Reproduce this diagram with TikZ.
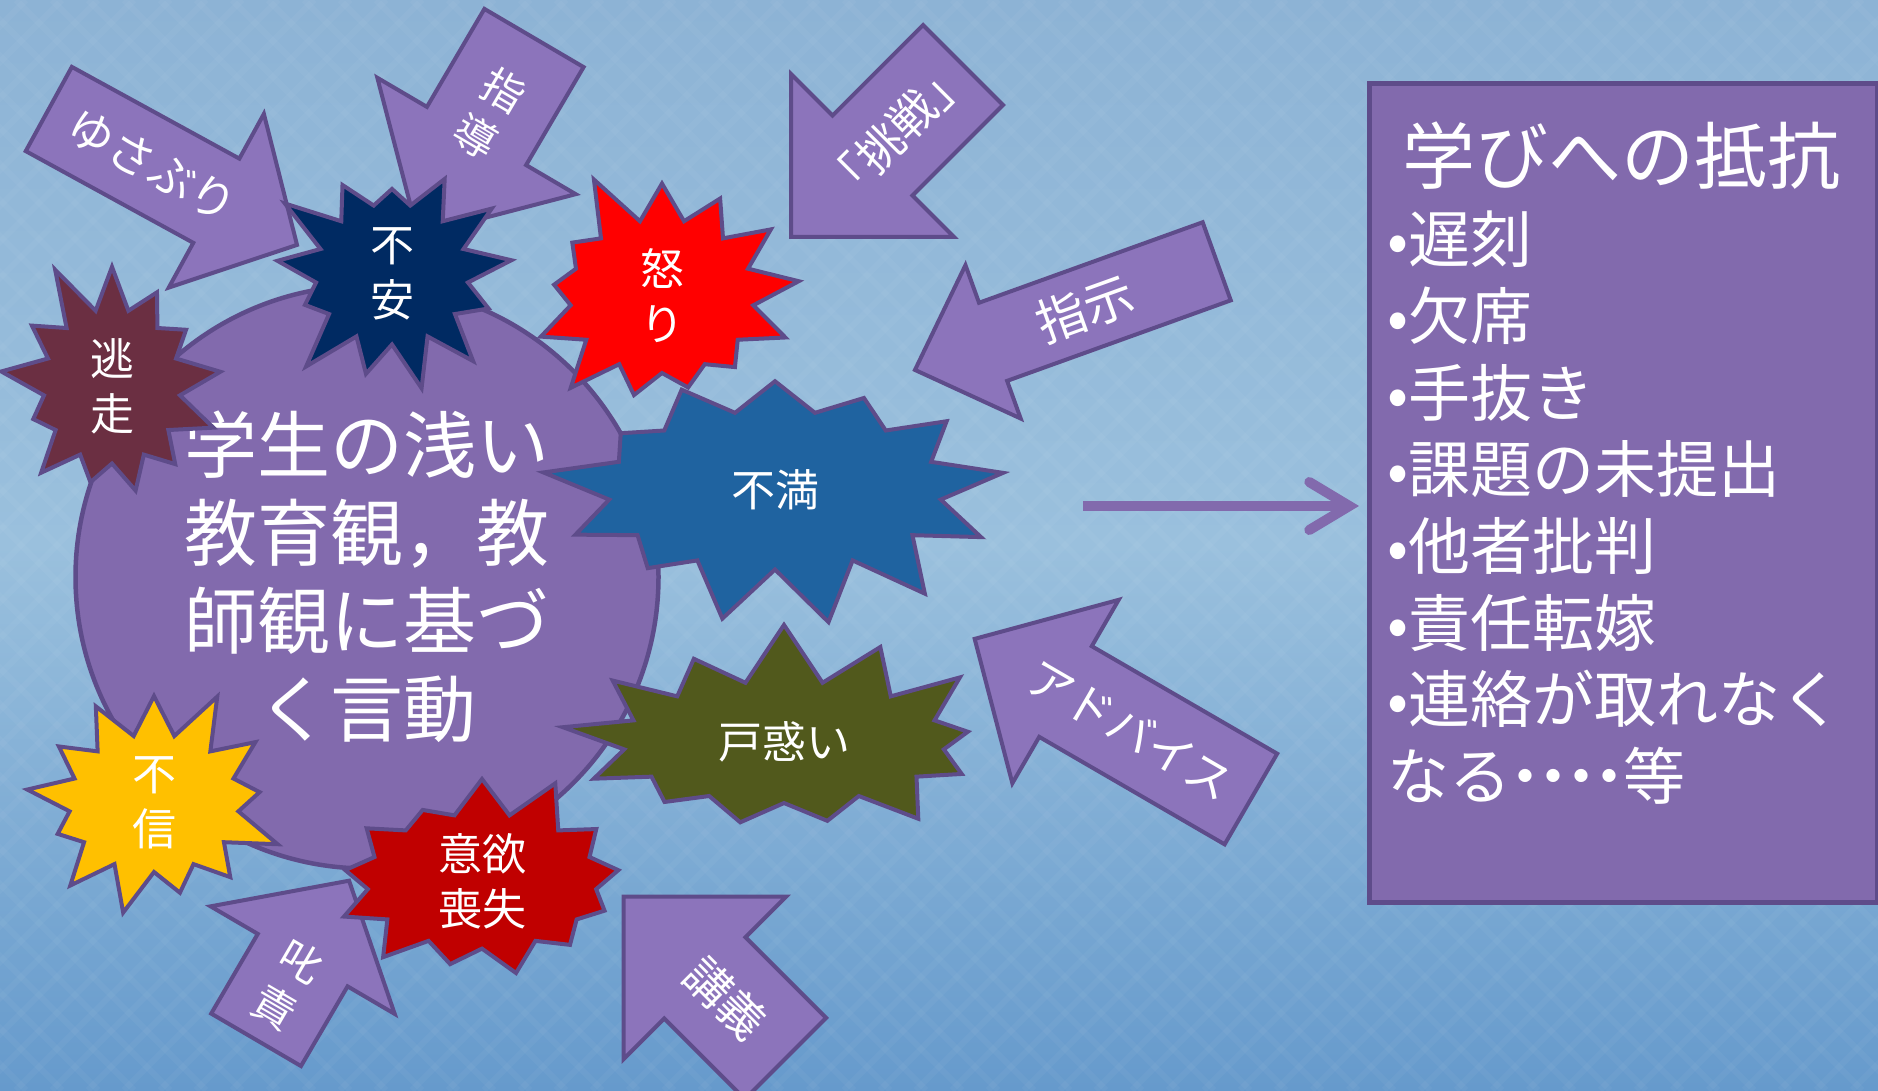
\documentclass[tikz,border=0pt]{standalone}
\usepackage{fontspec}
\setmainfont{Noto Sans CJK JP}
\usetikzlibrary{shapes.symbols,arrows.meta}

\definecolor{skytop}{RGB}{141,179,213}
\definecolor{skymid}{RGB}{154,192,221}
\definecolor{skybot}{RGB}{102,154,204}
\definecolor{violet}{RGB}{130,106,173}
\definecolor{arrowviolet}{RGB}{140,116,187}
\definecolor{rim}{RGB}{94,76,138}
\definecolor{maroon}{RGB}{107,47,66}
\definecolor{navy}{RGB}{0,42,98}
\definecolor{angry}{RGB}{255,0,0}
\definecolor{steel}{RGB}{31,99,160}
\definecolor{olive}{RGB}{81,89,28}
\definecolor{crimson}{RGB}{192,0,0}
\definecolor{gold}{RGB}{255,192,0}

\begin{document}
\begin{tikzpicture}[x=1pt,y=-1pt,
  blockarrow/.style={fill=arrowviolet, draw=rim, line width=4pt, line join=miter},
  arrowtext/.style={text=white, inner sep=0pt, align=center, font=\fontsize{46}{52}\selectfont},
  burst/.style={starburst, starburst points=13, draw=rim, line width=4pt, inner sep=0pt,
    text=white, align=center, font=\fontsize{44}{55}\selectfont},
  listtext/.style={text=white, inner sep=0pt, anchor=west, font=\fontsize{62}{70}\selectfont},
  ]

% background
\fill[top color=skytop, bottom color=skybot, middle color=skymid] (0,0) rectangle (1878,1090);
\useasboundingbox (0,0) rectangle (1878,1090);
\clip (0,0) rectangle (1878,1090);

% faint weave
\begin{scope}[white, opacity=0.035, line width=6pt]
\foreach \k in {-1100,-1064,...,1900}{
  \draw (\k,0) -- ++(1090,1090);
  \draw (\k+1090,0) -- ++(-1090,1090);
}
\end{scope}

% block arrows
% yusaburi
\begin{scope}[shift={(48.8,109)}, rotate=-28.7]
\draw[blockarrow] (0,-48) -- (191,-48) -- (191,-99) -- (283,0) -- (191,99) -- (191,48) -- (0,48) -- cycle;
\node[arrowtext, rotate=-28.7] (yusaburi) at (118,0) {ゆさぶり};
\end{scope}

% shidou
\begin{scope}[shift={(534,38)}, rotate=239.6]
\draw[blockarrow] (0,-57.5) -- (113.6,-57.5) -- (113.6,-115) -- (228.6,0) -- (113.6,115) -- (113.6,57.5) -- (0,57.5) -- cycle;
\node[arrowtext, rotate=-30.4, font=\fontsize{42}{54}\selectfont] (shidou) at (87.6,0) {指\\導};
\end{scope}

% chousen
\begin{scope}[shift={(963,65)}, rotate=225]
\draw[blockarrow] (0,-56.5) -- (128,-56.5) -- (128,-115) -- (243,0) -- (128,115) -- (128,56.5) -- (0,56.5) -- cycle;
\node[arrowtext, rotate=45] (chousen) at (94,0) {「挑戦」};
\end{scope}

% shiji
\begin{scope}[shift={(1216.7,261.3)}, rotate=199.8]
\draw[blockarrow] (0,-41.5) -- (237.7,-41.5) -- (237.7,-81.5) -- (320.7,0) -- (237.7,81.5) -- (237.7,41.5) -- (0,41.5) -- cycle;
\node[arrowtext, rotate=19.8, font=\fontsize{50}{56}\selectfont] (shiji) at (140,0) {指示};
\end{scope}

% advice
\begin{scope}[shift={(1250.9,799)}, rotate=149.9]
\draw[blockarrow] (0,-52.4) -- (214.3,-52.4) -- (214.3,-106) -- (319.3,0) -- (214.3,106) -- (214.3,52.4) -- (0,52.4) -- cycle;
\node[arrowtext, rotate=-30.1] (advice) at (139,0) {アドバイス};
\end{scope}

% kougi
\begin{scope}[shift={(785.5,1058.5)}, rotate=135]
\draw[blockarrow] (0,-57.5) -- (114,-57.5) -- (114,-115) -- (229,0) -- (114,115) -- (114,57.5) -- (0,57.5) -- cycle;
\node[arrowtext, rotate=-45] (kougi) at (85,0) {講義};
\end{scope}

% shisseki
\begin{scope}[shift={(256.1,1039.8)}, rotate=59.7]
\draw[blockarrow] (0,-52) -- (92.3,-52) -- (92.3,-106.6) -- (184.3,0) -- (92.3,106.6) -- (92.3,52) -- (0,52) -- cycle;
\node[arrowtext, rotate=-30.3, font=\fontsize{42}{53}\selectfont] (shisseki) at (63.7,0) {叱\\責};
\end{scope}

% student view
\node[circle, fill=violet, draw=rim, line width=4.5pt, minimum size=583pt, inner sep=0pt,
  text=white, align=center, font=\fontsize{73}{88}\selectfont] (belief) at (367,577)
  {学生の浅い\\教育観，教\\師観に基づ\\く言動};

% bursts
\node[burst, fill=maroon, minimum width=249pt, minimum height=267pt, starburst point height=56pt, random starburst=11] (tousou) at (112,386) {逃\\走};
\node[burst, fill=navy, minimum width=265pt, minimum height=253pt, starburst point height=56pt, random starburst=23] (fuan) at (392,274) {不\\安};
\node[burst, fill=angry, minimum width=300pt, minimum height=270pt, starburst point height=58pt, random starburst=5] (ikari) at (662,296) {怒\\り};
\node[burst, fill=steel, minimum width=470pt, minimum height=295pt, starburst point height=68pt, random starburst=42] (fuman) at (775,490) {不満};
\node[burst, fill=olive, minimum width=450pt, minimum height=250pt, starburst point height=64pt, random starburst=17] (tomadoi) at (784,742) {戸惑い};
\node[burst, fill=crimson, minimum width=330pt, minimum height=205pt, starburst point height=50pt, random starburst=31] (iyoku) at (482,881) {意欲\\喪失};
\node[burst, fill=gold, minimum width=282pt, minimum height=250pt, starburst point height=56pt, random starburst=8] (fushin) at (154,803) {不\\信};

% resistance box
\node[fill=violet, draw=rim, line width=5pt, minimum width=508pt, minimum height=819pt,
  anchor=north west, inner sep=0pt] (resist) at (1367,81) {};
\node[text=white, inner sep=0pt, font=\fontsize{73}{80}\selectfont] (resisttitle) at (1621,156) {学びへの抵抗};
\foreach \entry [count=\i] in {•遅刻, •欠席, •手抜き, •課題の未提出, •他者批判, •責任転嫁, •連絡が取れなく,
  なる\makebox[28pt]{・}\makebox[28pt]{・}\makebox[28pt]{・}\makebox[28pt]{・}等}{
  \node[listtext] (entry\i) at (1387, 239.5+76.6*\i-76.6) {\entry};
}

% flow
\coordinate (flowstart) at (1083,506);
\draw[violet, line width=10pt, -{Straight Barb[length=40pt, width=48pt, line cap=round]}]
  (flowstart) -- ([xshift=-8pt]flowstart -| resist.west);

\end{tikzpicture}
\end{document}
